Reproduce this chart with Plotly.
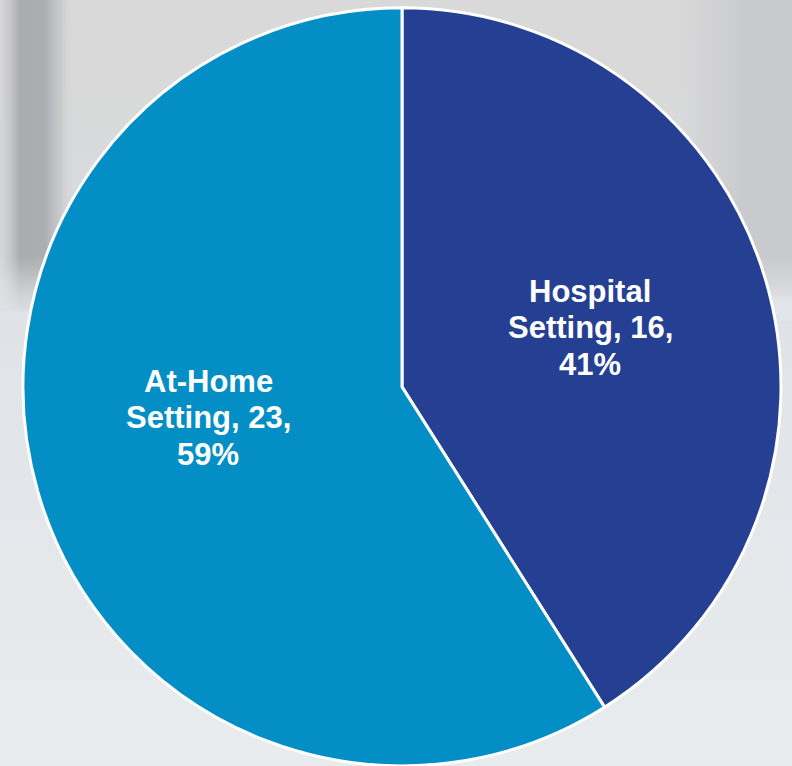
import plotly.graph_objects as go

# Care setting breakdown
setting_names = ["Hospital Setting", "At-Home Setting"]
counts = [16, 23]
slice_colors = ["#253f93", "#038ec5"]

# label block centres (pixels from top-left) and line pitch
label_centres = [(590, 328), (208, 418)]
LINE_PITCH = 36.7

W, H = 792, 766

fig = go.Figure()


def band(x0, x1, y0, y1, kind, scale):
    """Soft background panel drawn as a gradient-filled rectangle (y measured upward)."""
    fig.add_trace(go.Scatter(
        x=[x0, x1, x1, x0, x0], y=[y0, y0, y1, y1, y0],
        mode="lines", line=dict(width=0), fill="toself",
        fillgradient=dict(type=kind, colorscale=scale),
        hoverinfo="skip", showlegend=False,
    ))


# blurred room backdrop
band(0, W, 0, 490, "vertical", [[0, "#e9ecef"], [0.85, "#e0e3e7"], [1, "#dcdfe3"]])
band(0, W, 445, H, "vertical", [[0, "rgba(220,222,226,0)"], [0.16, "#d9dadc"], [1, "#d9d9d9"]])
band(0, 72, 455, H, "horizontal", [[0, "rgba(212,212,214,0.5)"], [0.28, "rgba(168,169,173,0.95)"],
                                    [0.62, "rgba(170,171,175,0.95)"], [0.85, "rgba(192,193,196,0.6)"],
                                    [1, "rgba(212,212,214,0)"]])
band(0, 80, 445, 510, "vertical", [[0, "rgba(224,227,231,1)"], [0.4, "rgba(224,227,231,0.7)"],
                                    [1, "rgba(224,227,231,0)"]])
band(680, W, 470, H, "horizontal", [[0, "rgba(200,201,204,0)"], [0.3, "rgba(208,208,210,0.7)"],
                                     [0.55, "rgba(194,196,199,0.7)"], [1, "rgba(192,194,198,0.7)"]])
band(680, W, 445, 510, "vertical", [[0, "rgba(226,229,233,1)"], [0.4, "rgba(226,229,233,0.7)"],
                                     [1, "rgba(226,229,233,0)"]])

fig.add_trace(go.Pie(
    labels=setting_names,
    values=counts,
    marker=dict(colors=slice_colors, line=dict(color="white", width=3)),
    sort=False,
    direction="clockwise",
    rotation=0,
    textinfo="none",
    hoverinfo="skip",
    showlegend=False,
    domain=dict(x=[23 / W, 781 / W], y=[0.0, 0.99]),
))

# slice labels: name, count and share, one annotation per line
total = sum(counts)
for name, n, (cx, cy) in zip(setting_names, counts, label_centres):
    first, second = name.split(" ", 1)
    lines = [first, f"{second}, {n},", f"{round(100 * n / total)}%"]
    for i, txt in enumerate(lines):
        y = cy + (i - 1) * LINE_PITCH
        fig.add_annotation(
            text=txt, x=cx / W, y=1 - y / H, xref="paper", yref="paper",
            xanchor="center", yanchor="middle", showarrow=False,
            font=dict(family="Liberation Sans, Arial, sans-serif", size=31,
                      color="white", weight="bold"),
        )

fig.update_layout(
    width=W, height=H,
    margin=dict(l=0, r=0, t=0, b=0),
    paper_bgcolor="#e4e7ea",
    plot_bgcolor="rgba(0,0,0,0)",
    xaxis=dict(range=[0, W], visible=False, fixedrange=True, domain=[0, 1]),
    yaxis=dict(range=[0, H], visible=False, fixedrange=True, domain=[0, 1]),
    showlegend=False,
)

fig.write_html("out.html")
